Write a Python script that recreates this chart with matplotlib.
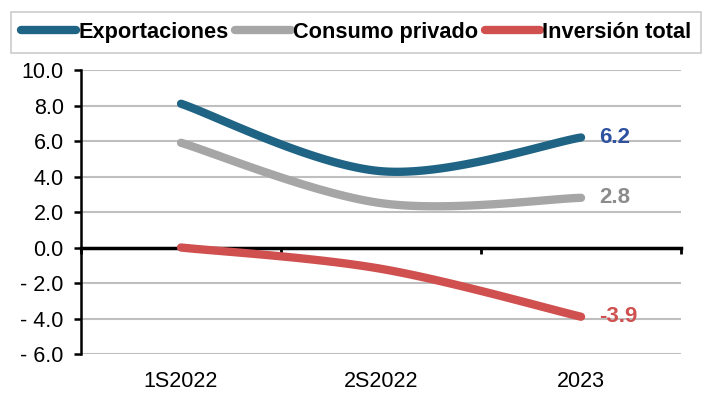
import numpy as np
import matplotlib.pyplot as plt
import matplotlib

matplotlib.rcParams['font.family'] = ['Liberation Sans', 'DejaVu Sans']
matplotlib.rcParams['font.size'] = 15

periodos = ['1S2022', '2S2022', '2023']
exportaciones = [8.1, 4.3, 6.2]
consumo = [5.9, 2.5, 2.8]
inversion = [0.0, -1.2, -3.9]
etiquetas_y = ['10.0', '8.0', '6.0', '4.0', '2.0', '0.0', '- 2.0', '- 4.0', '- 6.0']
valores_y = [10, 8, 6, 4, 2, 0, -2, -4, -6]

series = [
    ('Exportaciones', exportaciones, '#1F6485', '#2F52A0'),
    ('Consumo privado', consumo, '#A6A6A6', '#8C8C8C'),
    ('Inversión total', inversion, '#D05050', '#D05050'),
]


def suavizar(x, y, n=60):
    '''curva suavizada tipo Excel (Bezier Catmull-Rom)'''
    p = np.column_stack([x, y]).astype(float)
    ext = np.vstack([p[0], p, p[-1]])
    t = np.linspace(0, 1, n)[:, None]
    out = []
    for i in range(len(p) - 1):
        p0, p1 = ext[i + 1], ext[i + 2]
        c1 = p0 + (ext[i + 2] - ext[i]) / 6
        c2 = p1 - (ext[i + 3] - ext[i + 1]) / 6
        seg = ((1 - t) ** 3) * p0 + 3 * ((1 - t) ** 2) * t * c1 + 3 * (1 - t) * t ** 2 * c2 + t ** 3 * p1
        out.append(seg if i == 0 else seg[1:])
    out = np.vstack(out)
    return out[:, 0], out[:, 1]


fig = plt.figure(figsize=(7.12, 3.94), dpi=100)
ax = fig.add_axes([0.1138, 0.1015, 0.8427, 0.7208])

xs = np.arange(len(periodos)) + 0.5
for nombre, vals, color, color_txt in series:
    sx, sy = suavizar(xs, vals)
    ax.plot(sx, sy, color=color, lw=6, solid_capstyle='round', label=nombre, zorder=3)
    ax.text(xs[-1] + 0.09, vals[-1], f'{vals[-1]:.1f}', color=color_txt, fontsize=16,
            fontweight='bold', va='center', ha='left', zorder=4)

ax.set_xlim(0, 3)
ax.set_ylim(-6, 10)
ax.set_yticks(valores_y)
ax.set_yticklabels(etiquetas_y)
ax.yaxis.grid(True, color='#BFBFBF', lw=1.5)
ax.set_axisbelow(True)

for s in ['top', 'right']:
    ax.spines[s].set_visible(False)
ax.spines['left'].set_linewidth(1.8)
ax.spines['bottom'].set_position(('data', 0))
ax.spines['bottom'].set_linewidth(2.5)
ax.spines['bottom'].set_zorder(2)
ax.tick_params(axis='y', direction='out', length=5, width=1.8, pad=7.5, labelsize=15.5)
ax.set_xticks([0, 1, 2, 3])
ax.tick_params(axis='x', direction='out', length=4, width=2, labelbottom=False)

sec = ax.secondary_xaxis(0.0)
sec.set_xticks(xs)
sec.set_xticklabels(periodos)
sec.tick_params(length=0, pad=12, labelsize=15.5)
sec.spines['bottom'].set_visible(False)

leg = fig.legend(loc='upper center', bbox_to_anchor=(0.5, 0.997), ncol=3, frameon=True,
                 fancybox=False, edgecolor='#BFBFBF', handlelength=2.55, handletextpad=0.1,
                 columnspacing=0.3, borderpad=0.45, prop={'weight': 'bold', 'size': 15.7})
leg.get_frame().set_linewidth(1.2)

fig.savefig('out.png', dpi=100)
